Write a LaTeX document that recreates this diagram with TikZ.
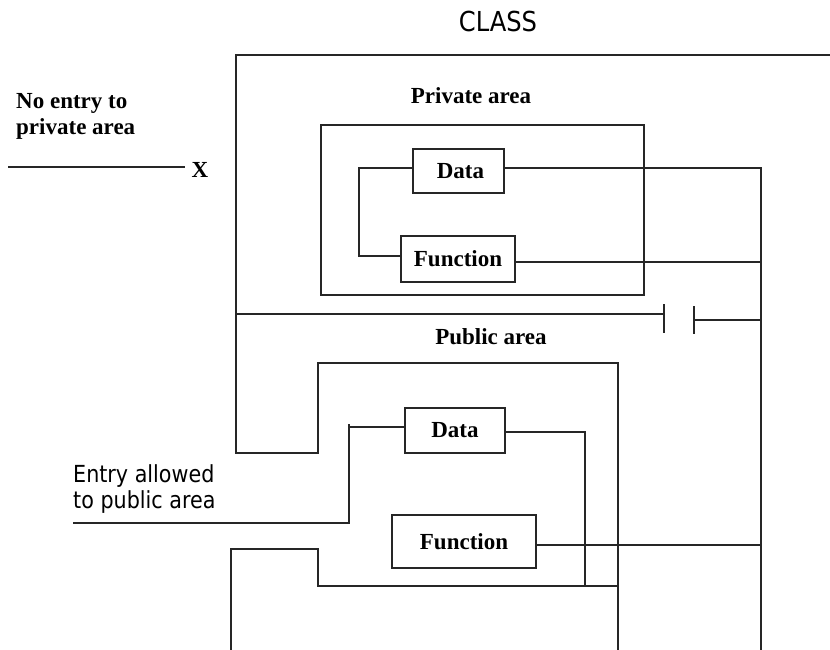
\documentclass[tikz,border=0pt]{standalone}
\usepackage{fontspec}
\setmainfont{Liberation Serif}
\newfontfamily\tsans[FakeStretch=0.88]{DejaVu Sans}
\begin{document}
\begin{tikzpicture}[x=1pt,y=-1pt,
  wire/.style={draw=black!85, line width=1.6pt},
  boxnode/.style={draw=black!85, line width=1.6pt, inner sep=0pt, font=\fontsize{23}{26}\selectfont\bfseries},
  areabox/.style={draw=black!85, line width=1.6pt, inner sep=0pt},
  lbl/.style={inner sep=0pt, font=\fontsize{23}{26}\selectfont\bfseries},
  slbl/.style={inner sep=0pt, font=\tsans\fontsize{23.5}{26}\selectfont}]
\useasboundingbox (0,0) rectangle (830,650);
\fill[white] (0,0) rectangle (830,650);

% texts
\node[slbl, anchor=base, font=\tsans\fontsize{27.5}{30}\selectfont] (cls) at (498,32) {CLASS};
\node[lbl, anchor=base west] (ne1) at (16,109) {No entry to};
\node[lbl, anchor=base west] (ne2) at (16,135) {private area};
\node[lbl, anchor=base] (xmark) at (200,178) {X};
\node[lbl, anchor=base] (priv) at (471,104) {Private area};
\node[lbl, anchor=base] (pub) at (491,344) {Public area};
\node[slbl, anchor=base west] (ea1) at (73,482) {Entry allowed};
\node[slbl, anchor=base west] (ea2) at (73,508) {to public area};

% boxes
\node[areabox, minimum width=323pt, minimum height=170pt] (privbox) at (482.5,210) {};
\node[boxnode, minimum width=91pt, minimum height=44pt] (pd) at (458.5,171) {\hspace{4pt}Data};
\node[boxnode, minimum width=114pt, minimum height=46pt] (pf) at (458,259) {Function};
\node[boxnode, minimum width=100pt, minimum height=45pt] (ud) at (455,430.5) {Data};
\node[boxnode, minimum width=144pt, minimum height=53pt] (uf) at (464,541.5) {Function};

% coordinates
\coordinate (rb) at (761,650);
\coordinate (noentry) at (8,167);
\coordinate (noentryend) at (185,167);
\coordinate (jd) at (349,523);
\coordinate (jdtick) at (349,424);
\coordinate (entry) at (73,523);
\coordinate (ddown) at (585,587);

% class outline
\draw[wire] (830,55) -- (236,55) -- (236,453) -- (318,453) -- (318,363) -- (618,363) -- (618,650);
\draw[wire] (236,314) -- (664,314);
\draw[wire] (664,304) -- (664,333);
\draw[wire] (694,306) -- (694,334);
\draw[wire] (694,320) -- (761,320);
\draw[wire] (231,650) -- (231,549) -- (318,549) -- (318,586) -- (618,586);

% connectors
\draw[wire] (noentry) -- (noentryend);
\draw[wire] ([yshift=3pt]pd.east) -| (rb);
\draw[wire] ([yshift=-3pt]pf.east) -- ([yshift=-3pt]pf.east -| rb);
\draw[wire] ([yshift=-3.5pt]uf.east) -- ([yshift=-3.5pt]uf.east -| rb);
\draw[wire] ([yshift=3pt]pd.west) -- ++(-53,0) |- ([yshift=3pt]pf.west);
\draw[wire] ([yshift=3.5pt]ud.west) -| (jd) -- (entry);
\draw[wire] (jdtick) -- ([yshift=3.5pt]ud.west -| jd);
\draw[wire] ([yshift=-1.5pt]ud.east) -| (ddown);
\end{tikzpicture}
\end{document}
